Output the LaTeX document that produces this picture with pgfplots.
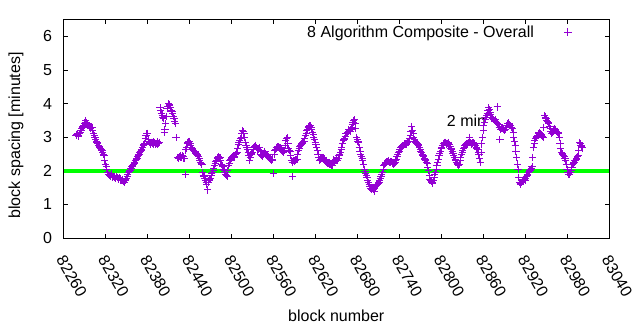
\documentclass[border=0pt]{standalone}
\usepackage{fontspec}
\setmainfont{Liberation Sans}
\usepackage{pgfplots}
\pgfplotsset{compat=1.18}
\definecolor{gpviolet}{RGB}{148,0,211}
\definecolor{gpgreen}{RGB}{0,255,0}
\begin{document}
\begin{tikzpicture}[font=\fontsize{16}{19}\selectfont]
\begin{axis}[
  at={(63.5pt,92pt)}, anchor=south west,
  scale only axis, width=545.5pt, height=218.4pt,
  xmin=82260, xmax=83040, ymin=0, ymax=6.5,
  xtick={82260,82320,82380,82440,82500,82560,82620,82680,82740,82800,82860,82920,82980,83040},
  ytick={0,1,2,3,4,5,6},
  scaled x ticks=false, scaled y ticks=false,
  xticklabel={\pgfmathprintnumber[fixed,precision=0,1000 sep={}]{\tick}},
  tick align=inside, xtick pos=both, ytick pos=both,
  major tick length=4.5pt,
  axis line style={line width=0.9pt},
  every tick/.style={black, line width=0.9pt},
  /pgf/number format/assume math mode=true,
  /pgf/number format/1000 sep={},
  tick label style={font=\fontsize{16}{19}\selectfont},
  xticklabel style={xshift=2pt, yshift=-16pt, rotate=-60, anchor=north west, inner sep=0pt},
  yticklabel style={xshift=-8pt},
  xlabel={block number},
  ylabel={block spacing [minutes]},
  xlabel style={at={(axis description cs:0.5,-0.357)}, anchor=center},
  ylabel style={at={(axis description cs:-0.087,0.47)}, anchor=center},
  legend plot pos=right,
  legend style={draw=none, fill=none, at={(axis description cs:0.4464,0.9432)}, anchor=west,
    inner sep=0pt, nodes={inner sep=0pt}, font=\fontsize{16}{19}\selectfont},
  legend image code/.code={\path[draw=none,fill=none] (0pt,-4pt) -- (40pt,4pt);
    \path[draw=none] plot[mark=+, mark size=3.6pt, mark options={gpviolet, line width=1pt}] coordinates {(34pt,0pt)};},
]
\addplot[only marks, mark=+, mark size=3.6pt, color=gpviolet, mark options={gpviolet, solid, line width=1pt}] coordinates {
(82278,3.05)(82280,3.10)(82282,3.02)(82284,3.15)(82286,3.25)(82288,3.32)(82290,3.42)(82292,3.50)
(82294,3.38)(82296,3.35)(82298,3.30)(82300,3.28)(82302,3.20)(82304,3.05)(82306,2.92)(82308,2.85)
(82310,2.74)(82312,2.70)(82314,2.62)(82316,2.55)(82318,2.45)(82320,2.18)(82322,2.05)(82324,1.90)
(82326,1.86)(82328,1.92)(82330,1.80)(82332,1.84)(82334,1.78)(82336,1.82)(82338,1.76)(82340,1.80)
(82342,1.72)(82344,1.74)(82346,1.68)(82348,1.70)(82350,1.78)(82352,1.90)(82354,1.98)(82356,2.06)
(82358,2.12)(82360,2.20)(82362,2.26)(82364,2.35)(82366,2.42)(82368,2.50)(82370,2.58)(82372,2.64)
(82374,2.75)(82376,2.80)(82378,3.05)(82380,3.12)(82382,2.88)(82384,2.82)(82386,2.85)(82388,2.80)
(82390,2.84)(82392,2.78)(82394,2.86)(82396,2.82)(82398,3.88)(82400,3.72)(82402,3.60)(82404,3.15)
(82406,3.40)(82408,3.85)(82410,4.00)(82412,3.95)(82414,3.80)(82416,3.72)(82418,3.55)(82420,3.42)
(82421,2.98)(82424,2.38)(82426,2.42)(82428,2.40)(82430,2.45)(82432,2.38)(82434,1.88)(82436,2.68)
(82438,2.85)(82440,2.88)(82442,2.75)(82444,2.66)(82446,2.60)(82448,2.56)(82450,2.52)(82452,2.45)
(82454,2.38)(82456,2.25)(82458,2.20)(82460,1.85)(82462,1.78)(82464,1.65)(82466,1.43)(82468,1.70)
(82470,1.76)(82472,1.92)(82474,2.02)(82476,2.15)(82478,2.28)(82480,2.38)(82482,2.42)(82484,2.40)
(82486,2.20)(82488,2.12)(82490,2.00)(82492,1.88)(82494,1.82)(82496,2.15)(82498,2.30)(82500,2.38)
(82502,2.42)(82504,2.40)(82506,2.48)(82508,2.55)(82510,2.78)(82512,2.90)(82514,3.00)(82516,3.20)
(82518,3.12)(82520,2.85)(82522,2.68)(82524,2.55)(82526,2.32)(82528,2.48)(82530,2.55)(82532,2.68)
(82534,2.76)(82536,2.70)(82538,2.62)(82540,2.68)(82542,2.50)(82544,2.42)(82546,2.50)(82548,2.56)
(82550,2.48)(82552,2.42)(82554,2.38)(82556,2.35)(82558,2.30)(82560,1.93)(82562,2.60)(82564,2.68)
(82566,2.72)(82568,2.70)(82570,2.68)(82572,2.62)(82574,2.56)(82576,2.60)(82578,2.90)(82580,2.98)
(82582,2.65)(82584,2.56)(82586,2.30)(82588,1.82)(82590,2.28)(82592,2.32)(82594,2.35)(82596,2.60)
(82598,2.72)(82600,2.78)(82602,2.85)(82604,2.88)(82606,3.05)(82608,3.20)(82610,3.28)(82612,3.35)
(82614,3.30)(82616,3.15)(82618,3.00)(82620,2.85)(82622,2.70)(82624,2.50)(82626,2.32)(82628,2.35)
(82630,2.38)(82632,2.40)(82634,2.30)(82636,2.26)(82638,2.22)(82640,2.25)(82642,2.18)(82644,2.16)
(82646,2.32)(82648,2.28)(82650,2.34)(82652,2.30)(82654,2.45)(82656,2.55)(82658,2.70)(82660,2.90)
(82662,2.95)(82664,3.10)(82666,3.15)(82668,3.22)(82670,3.18)(82672,3.30)(82674,3.45)(82676,3.52)
(82678,3.25)(82680,2.92)(82682,2.84)(82684,2.58)(82686,2.42)(82688,2.30)(82690,2.05)(82692,1.92)
(82694,1.80)(82696,1.65)(82698,1.52)(82700,1.45)(82702,1.50)(82704,1.38)(82706,1.52)(82708,1.58)
(82710,1.62)(82712,1.70)(82714,1.82)(82716,1.95)(82718,2.15)(82720,2.22)(82722,2.26)(82724,2.30)
(82726,2.24)(82728,2.28)(82730,2.25)(82732,2.20)(82734,2.24)(82736,2.35)(82738,2.48)(82740,2.58)
(82742,2.68)(82744,2.72)(82746,2.76)(82748,2.80)(82750,2.78)(82752,2.84)(82754,2.88)(82756,3.05)
(82758,3.32)(82760,3.10)(82762,2.92)(82764,2.85)(82766,2.80)(82768,2.76)(82770,2.62)(82772,2.55)
(82774,2.45)(82776,2.38)(82778,2.30)(82780,2.22)(82782,2.00)(82784,1.75)(82786,1.68)(82788,1.62)
(82790,1.80)(82792,1.95)(82794,2.15)(82796,2.35)(82798,2.52)(82800,2.65)(82802,2.75)(82804,2.82)
(82806,2.85)(82808,2.80)(82810,2.84)(82812,2.78)(82814,2.65)(82816,2.58)(82818,2.45)(82820,2.35)
(82822,2.25)(82824,2.18)(82826,2.20)(82828,2.40)(82830,2.55)(82832,2.65)(82834,2.76)(82836,2.80)
(82838,2.82)(82840,3.00)(82842,2.84)(82844,2.80)(82846,2.85)(82848,2.78)(82850,2.70)(82852,2.62)
(82854,2.48)(82856,2.26)(82858,2.80)(82860,3.20)(82862,3.45)(82864,3.58)(82866,3.70)(82868,3.88)
(82870,3.75)(82872,3.60)(82874,3.55)(82876,3.50)(82878,3.52)(82880,3.90)(82882,3.38)(82884,2.92)
(82886,3.25)(82888,3.28)(82890,3.20)(82892,3.22)(82894,3.35)(82896,3.42)(82898,3.38)(82900,3.30)
(82902,3.25)(82904,3.00)(82906,2.75)(82908,2.40)(82910,2.05)(82912,1.65)(82914,1.60)(82916,1.70)
(82918,1.75)(82920,1.72)(82922,1.82)(82924,1.90)(82926,1.98)(82928,2.05)(82930,2.12)(82932,2.70)
(82934,2.90)(82936,3.00)(82938,3.05)(82940,3.15)(82942,3.10)(82944,3.05)(82946,3.00)(82948,3.65)
(82950,3.55)(82952,3.48)(82954,3.42)(82956,3.25)(82958,3.12)(82960,3.18)(82962,3.26)(82964,3.22)
(82966,3.15)(82968,3.12)(82970,2.80)(82972,2.55)(82974,2.48)(82976,2.42)(82978,2.30)(82980,2.05)
(82982,1.88)(82984,1.90)(82986,2.00)(82988,2.18)(82990,2.26)(82992,2.32)(82994,2.38)(82996,2.45)
(82998,2.85)(83000,2.75)(83002,2.68)
(82279,3.08)(82281,3.04)(82283,3.12)(82285,3.20)(82287,3.30)(82289,3.36)(82291,3.45)(82293,3.44)
(82295,3.40)(82297,3.32)(82299,3.26)(82301,3.30)(82303,3.12)(82305,3.00)(82307,2.88)(82309,2.80)
(82311,2.72)(82313,2.66)(82315,2.60)(82317,2.50)(82319,2.30)(82321,2.12)(82323,1.95)(82325,1.88)
(82327,1.84)(82329,1.88)(82331,1.82)(82333,1.80)(82335,1.76)(82337,1.80)(82339,1.74)(82341,1.76)
(82343,1.70)(82345,1.72)(82347,1.66)(82349,1.74)(82351,1.84)(82353,1.94)(82355,2.02)(82357,2.08)
(82359,2.16)(82361,2.22)(82363,2.30)(82365,2.38)(82367,2.46)(82369,2.54)(82371,2.60)(82373,2.70)
(82375,2.78)(82377,2.95)(82379,3.10)(82381,2.92)(82383,2.84)(82385,2.80)(82387,2.83)(82389,2.86)
(82391,2.80)(82393,2.82)(82395,2.80)(82397,2.85)(82399,3.80)(82401,3.66)(82403,3.55)(82405,3.22)
(82407,3.62)(82409,3.92)(82411,3.98)(82413,3.88)(82415,3.76)(82417,3.62)(82419,3.48)(82423,2.40)
(82425,2.36)(82427,2.44)(82429,2.40)(82431,2.42)(82433,2.36)(82435,2.62)(82437,2.80)(82439,2.86)
(82441,2.82)(82443,2.70)(82445,2.62)(82447,2.58)(82449,2.54)(82451,2.48)(82453,2.42)(82455,2.30)
(82457,2.22)(82459,1.95)(82461,1.82)(82463,1.72)(82465,1.60)(82467,1.66)(82469,1.74)(82471,1.85)
(82473,1.96)(82475,2.08)(82477,2.22)(82479,2.32)(82481,2.40)(82483,2.38)(82485,2.30)(82487,2.16)
(82489,2.05)(82491,1.95)(82493,1.85)(82495,2.00)(82497,2.22)(82499,2.35)(82501,2.40)(82503,2.44)
(82505,2.42)(82507,2.52)(82509,2.65)(82511,2.85)(82513,2.95)(82515,3.10)(82517,3.16)(82519,3.00)
(82521,2.75)(82523,2.62)(82525,2.45)(82527,2.40)(82529,2.52)(82531,2.62)(82533,2.72)(82535,2.74)
(82537,2.66)(82539,2.64)(82541,2.60)(82543,2.45)(82545,2.46)(82547,2.54)(82549,2.52)(82551,2.45)
(82553,2.40)(82555,2.36)(82557,2.32)(82559,2.35)(82561,2.50)(82563,2.64)(82565,2.70)(82567,2.72)
(82569,2.70)(82571,2.65)(82573,2.58)(82575,2.55)(82577,2.75)(82579,2.95)(82581,2.80)(82583,2.60)
(82585,2.45)(82587,2.26)(82589,2.30)(82591,2.30)(82593,2.34)(82595,2.48)(82597,2.66)(82599,2.75)
(82601,2.82)(82603,2.86)(82605,2.95)(82607,3.12)(82609,3.24)(82611,3.32)(82613,3.34)(82615,3.22)
(82617,3.08)(82619,2.92)(82621,2.78)(82623,2.60)(82625,2.40)(82627,2.34)(82629,2.36)(82631,2.40)
(82633,2.35)(82635,2.28)(82637,2.24)(82639,2.23)(82641,2.20)(82643,2.17)(82645,2.25)(82647,2.30)
(82649,2.31)(82651,2.32)(82653,2.38)(82655,2.50)(82657,2.62)(82659,2.80)(82661,2.92)(82663,3.02)
(82665,3.12)(82667,3.18)(82669,3.20)(82671,3.24)(82673,3.38)(82675,3.50)(82677,3.40)(82679,3.00)
(82681,2.88)(82683,2.70)(82685,2.50)(82687,2.36)(82689,2.18)(82691,1.98)(82693,1.86)(82695,1.72)
(82697,1.58)(82699,1.48)(82701,1.48)(82703,1.44)(82705,1.46)(82707,1.55)(82709,1.60)(82711,1.66)
(82713,1.76)(82715,1.88)(82717,2.05)(82719,2.18)(82721,2.24)(82723,2.28)(82725,2.27)(82727,2.26)
(82729,2.27)(82731,2.22)(82733,2.22)(82735,2.30)(82737,2.42)(82739,2.53)(82741,2.64)(82743,2.70)
(82745,2.74)(82747,2.78)(82749,2.80)(82751,2.82)(82753,2.86)(82755,2.95)(82757,3.18)(82759,3.20)
(82761,3.00)(82763,2.88)(82765,2.82)(82767,2.78)(82769,2.68)(82771,2.58)(82773,2.50)(82775,2.42)
(82777,2.34)(82779,2.26)(82781,2.10)(82783,1.85)(82785,1.72)(82787,1.64)(82789,1.70)(82791,1.88)
(82793,2.05)(82795,2.25)(82797,2.45)(82799,2.58)(82801,2.70)(82803,2.80)(82805,2.84)(82807,2.82)
(82809,2.82)(82811,2.80)(82813,2.72)(82815,2.62)(82817,2.52)(82819,2.40)(82821,2.30)(82823,2.22)
(82825,2.16)(82827,2.30)(82829,2.48)(82831,2.60)(82833,2.70)(82835,2.78)(82837,2.82)(82839,2.84)
(82841,2.86)(82843,2.82)(82845,2.83)(82847,2.82)(82849,2.74)(82851,2.66)(82853,2.55)(82855,2.38)
(82857,2.55)(82859,3.00)(82861,3.35)(82863,3.52)(82865,3.64)(82867,3.80)(82869,3.82)(82871,3.68)
(82873,3.58)(82875,3.52)(82877,3.48)(82879,3.45)(82881,3.40)(82883,3.30)(82885,3.22)(82887,3.27)
(82889,3.24)(82891,3.21)(82893,3.28)(82895,3.40)(82897,3.40)(82899,3.34)(82901,3.28)(82903,3.15)
(82905,2.88)(82907,2.58)(82909,2.20)(82911,1.80)(82913,1.62)(82915,1.66)(82917,1.72)(82919,1.74)
(82921,1.78)(82923,1.86)(82925,1.94)(82927,2.02)(82929,2.08)(82931,2.40)(82933,2.80)(82935,2.95)
(82937,3.02)(82939,3.10)(82941,3.14)(82943,3.08)(82945,3.02)(82947,3.30)(82949,3.60)(82951,3.50)
(82953,3.45)(82955,3.32)(82957,3.18)(82959,3.14)(82961,3.22)(82963,3.24)(82965,3.18)(82967,3.14)
(82969,3.00)(82971,2.65)(82973,2.52)(82975,2.45)(82977,2.38)(82979,2.18)(82981,1.95)(82983,1.88)
(82985,1.95)(82987,2.10)(82989,2.22)(82991,2.30)(82993,2.35)(82995,2.42)(82997,2.60)(82999,2.80)
(83001,2.72)
};
\addlegendentry{8 Algorithm Composite - Overall}
\addplot[gpgreen, line width=4pt, forget plot] coordinates {(82260,2) (83040,2)};
\node[anchor=west, inner sep=0pt] at (axis cs:82808,3.48) {2 min};
\end{axis}
\pgfresetboundingbox
\useasboundingbox (0,0) rectangle (640pt,330pt);
\end{tikzpicture}
\end{document}
